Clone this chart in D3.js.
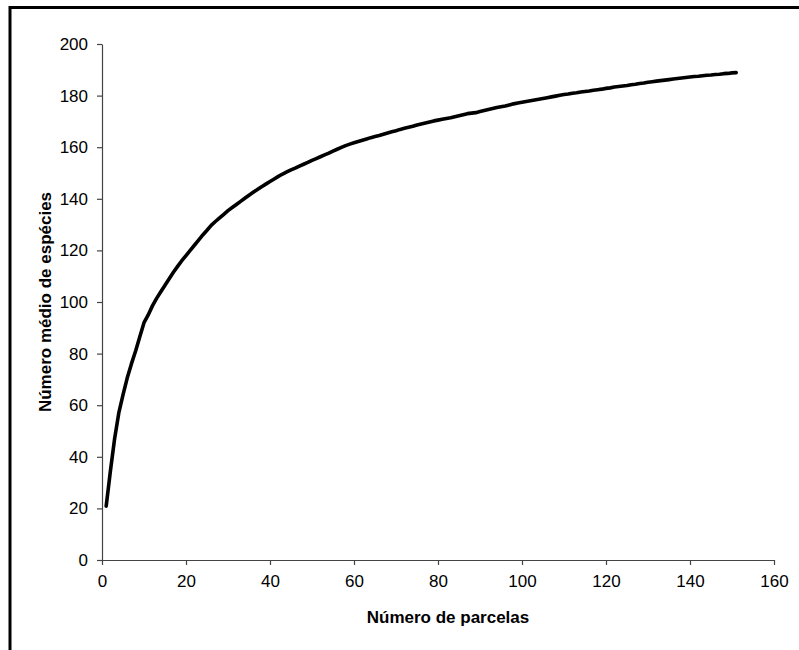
<!DOCTYPE html>
<html>
<head>
<meta charset="utf-8">
<script src="https://cdn.jsdelivr.net/npm/d3@7"></script>
<style>
  html, body { margin: 0; padding: 0; background: #fff; }
  svg { display: block; }
  text { font-family: "Liberation Sans", Arial, sans-serif; fill: #000; }
</style>
</head>
<body>
<svg id="chart" width="799" height="650"></svg>
<script>
// Number of plots (x) 1..151
const parcelas = d3.range(1, 152);
// Mean number of species
const especies = [
  20.9, 34.5, 47.0, 57.0, 64.0, 70.5, 76.0, 81.0, 86.5, 92.0,
  95.0, 98.5, 101.4, 104.0, 106.5, 109.0, 111.5, 113.8, 116.0, 118.0,
  120.0, 122.0, 124.0, 126.0, 127.8, 129.7, 131.2, 132.6, 134.0, 135.4,
  136.6, 137.8, 139.0, 140.2, 141.4, 142.5, 143.6, 144.7, 145.7, 146.7,
  147.7, 148.7, 149.6, 150.4, 151.2, 151.9, 152.7, 153.4, 154.1, 154.9,
  155.6, 156.3, 157.0, 157.7, 158.5, 159.2, 159.9, 160.6, 161.2, 161.7,
  162.2, 162.7, 163.2, 163.7, 164.1, 164.5, 165.0, 165.5, 166.0, 166.4,
  166.9, 167.3, 167.7, 168.1, 168.6, 169.0, 169.4, 169.8, 170.2, 170.5,
  170.8, 171.1, 171.4, 171.8, 172.2, 172.6, 173.0, 173.2, 173.4, 173.8,
  174.2, 174.6, 175.0, 175.4, 175.7, 176.0, 176.4, 176.8, 177.1, 177.4,
  177.7, 178.0, 178.3, 178.6, 178.9, 179.2, 179.5, 179.8, 180.1, 180.4,
  180.6, 180.9, 181.1, 181.4, 181.6, 181.8, 182.1, 182.3, 182.5, 182.8,
  183.0, 183.3, 183.5, 183.7, 183.9, 184.2, 184.4, 184.7, 184.9, 185.2,
  185.4, 185.6, 185.8, 186.0, 186.2, 186.4, 186.6, 186.8, 187.0, 187.2,
  187.4, 187.5, 187.7, 187.9, 188.0, 188.2, 188.3, 188.5, 188.6, 188.8,
  188.9
];
const xTicks = [0, 20, 40, 60, 80, 100, 120, 140, 160];
const yTicks = [0, 20, 40, 60, 80, 100, 120, 140, 160, 180, 200];
const xTitle = "Número de parcelas";
const yTitle = "Número médio de espécies";

const svg = d3.select("#chart");

// outer frame (only top and left visible)
svg.append("rect")
  .attr("x", 10).attr("y", 7.5)
  .attr("width", 900).attr("height", 900)
  .attr("fill", "none").attr("stroke", "#000").attr("stroke-width", 3);

const x = d3.scaleLinear().domain([0, 160]).range([102, 774]);
const y = d3.scaleLinear().domain([0, 200]).range([560, 44]);

const xAxis = svg.append("g")
  .attr("transform", `translate(0,${y(0)})`)
  .call(d3.axisBottom(x).tickValues(xTicks).tickSize(5).tickSizeOuter(0).tickPadding(10));
const yAxis = svg.append("g")
  .attr("transform", `translate(${x(0)},0)`)
  .call(d3.axisLeft(y).tickValues(yTicks).tickSize(5).tickSizeOuter(0).tickPadding(9));

[xAxis, yAxis].forEach(g => {
  g.select(".domain").attr("stroke", "#444").attr("stroke-width", 1.2);
  g.selectAll(".tick line").attr("stroke", "#444").attr("stroke-width", 1.2);
  g.selectAll(".tick text")
    .attr("font-family", "'Liberation Sans', Arial, sans-serif")
    .attr("font-size", 17).attr("fill", "#000");
});

const line = d3.line()
  .x((d, i) => x(parcelas[i]))
  .y(d => y(d));

svg.append("path")
  .datum(especies)
  .attr("d", line)
  .attr("fill", "none")
  .attr("stroke", "#000")
  .attr("stroke-width", 3.6)
  .attr("stroke-linejoin", "round")
  .attr("stroke-linecap", "round");

svg.append("text")
  .attr("x", 448).attr("y", 623)
  .attr("text-anchor", "middle")
  .attr("font-size", 17).attr("font-weight", "bold")
  .text(xTitle);

svg.append("text")
  .attr("transform", "translate(51,302) rotate(-90)")
  .attr("text-anchor", "middle")
  .attr("font-size", 17).attr("font-weight", "bold")
  .text(yTitle);
</script>
</body>
</html>
